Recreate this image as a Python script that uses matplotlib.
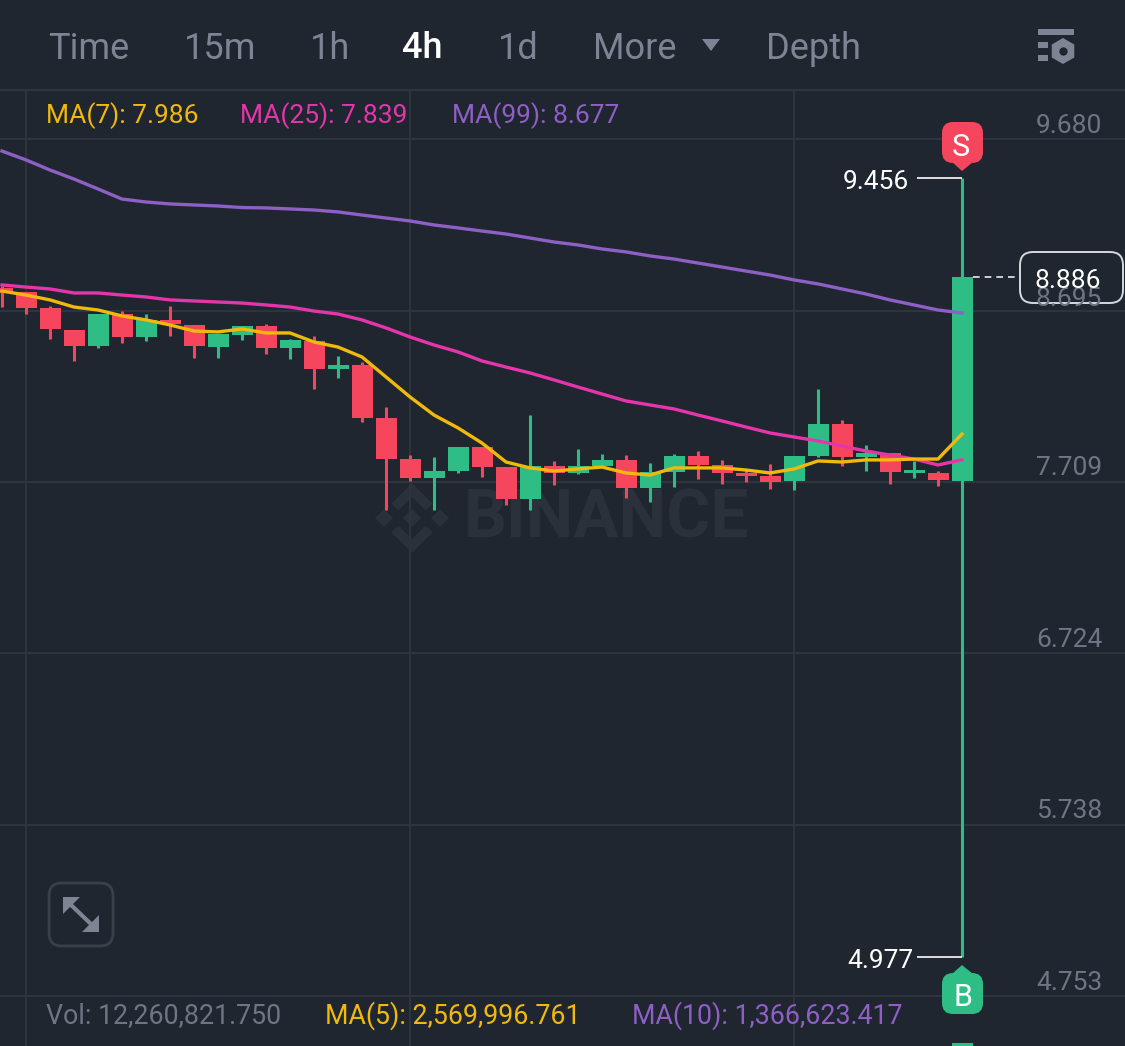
import matplotlib

matplotlib.use("Agg")
import matplotlib.pyplot as plt
from matplotlib.patches import FancyBboxPatch, Polygon
import numpy as np

plt.rcParams["font.family"] = ["Roboto", "DejaVu Sans"]

BG = "#1f2630"
GRID = "#2e353f"
GREEN = "#2ebd85"
RED = "#f6465d"
YELLOW = "#f0b90b"
PINK = "#e535ab"
PURPLE = "#8e5fc4"
GRAY = "#6f7683"
TAB = "#7d8493"
WHITE = "#eaecef"
MARK = "#2a313b"

# candles, one per 4h bar
opens = [8.825, 8.802, 8.710, 8.583, 8.491, 8.675, 8.543, 8.641, 8.612, 8.485, 8.554,
         8.606, 8.480, 8.520, 8.359, 8.382, 8.077, 7.841, 7.732, 7.772, 7.910, 7.795,
         7.611, 7.801, 7.761, 7.801, 7.836, 7.675, 7.767, 7.859, 7.807, 7.761, 7.744,
         7.715, 7.859, 8.043, 7.853, 7.876, 7.761, 7.761, 7.717]
highs = [8.836, 8.802, 8.721, 8.583, 8.675, 8.692, 8.675, 8.721, 8.612, 8.560, 8.606,
         8.618, 8.531, 8.549, 8.434, 8.399, 8.140, 7.864, 7.853, 7.910, 7.910, 7.795,
         8.094, 7.830, 7.899, 7.870, 7.864, 7.818, 7.870, 7.887, 7.836, 7.778, 7.813,
         7.859, 8.244, 8.066, 7.922, 7.876, 7.830, 7.772, 9.456]
lows = [8.715, 8.675, 8.531, 8.405, 8.480, 8.508, 8.520, 8.549, 8.422, 8.422, 8.526,
        8.445, 8.416, 8.244, 8.307, 8.054, 7.548, 7.715, 7.548, 7.761, 7.738, 7.577,
        7.548, 7.692, 7.755, 7.801, 7.617, 7.594, 7.680, 7.726, 7.698, 7.709, 7.669,
        7.663, 7.853, 7.801, 7.772, 7.698, 7.732, 7.686, 4.977]
closes = [8.796, 8.710, 8.589, 8.491, 8.675, 8.543, 8.641, 8.618, 8.491, 8.560, 8.606,
          8.480, 8.526, 8.359, 8.382, 8.077, 7.841, 7.732, 7.772, 7.910, 7.795, 7.611,
          7.801, 7.761, 7.801, 7.836, 7.675, 7.767, 7.859, 7.807, 7.761, 7.744, 7.709,
          7.859, 8.043, 7.853, 7.876, 7.767, 7.778, 7.721, 8.886]

ma7 = [8.807, 8.784, 8.756, 8.715, 8.698, 8.664, 8.641, 8.612, 8.577, 8.572, 8.589,
       8.566, 8.566, 8.514, 8.485, 8.428, 8.313, 8.198, 8.094, 8.020, 7.933, 7.824,
       7.790, 7.772, 7.784, 7.795, 7.761, 7.749, 7.790, 7.790, 7.790, 7.778, 7.761,
       7.784, 7.830, 7.824, 7.836, 7.836, 7.841, 7.841, 7.985]
ma25 = [8.842, 8.830, 8.819, 8.796, 8.796, 8.784, 8.773, 8.756, 8.750, 8.744, 8.738,
        8.727, 8.715, 8.692, 8.675, 8.641, 8.595, 8.543, 8.497, 8.457, 8.405, 8.370,
        8.336, 8.296, 8.255, 8.215, 8.175, 8.152, 8.129, 8.094, 8.060, 8.025, 7.991,
        7.968, 7.945, 7.916, 7.887, 7.864, 7.841, 7.807, 7.836]
ma99 = [9.612, 9.561, 9.503, 9.451, 9.394, 9.336, 9.319, 9.308, 9.302, 9.296, 9.287,
        9.285, 9.279, 9.273, 9.262, 9.244, 9.227, 9.210, 9.187, 9.170, 9.152, 9.135,
        9.112, 9.089, 9.072, 9.049, 9.032, 9.009, 8.991, 8.968, 8.945, 8.922, 8.899,
        8.871, 8.848, 8.819, 8.790, 8.756, 8.727, 8.698, 8.681]

price_ticks = [9.680, 8.695, 7.709, 6.724, 5.738, 4.753]
grid_bars = [1, 17, 33]
tabs = ["Time", "15m", "1h", "4h", "1d", "More", "Depth"]

W, H = 1125, 1046
fig = plt.figure(figsize=(W / 100, H / 100), dpi=100, facecolor=BG)

# watermark sits under everything, in pixel space
back = fig.add_axes([0, 0, 1, 1], zorder=0)
back.set_xlim(0, W); back.set_ylim(H, 0); back.axis("off")
back.text(606, 519, "BINANCE", color=MARK, fontsize=48.5, fontweight="bold",
          ha="center", va="center")
for cx, cy, r in [(412, 518, 9), (384, 518, 9), (440, 518, 9)]:
    back.add_patch(Polygon([(cx - r, cy), (cx, cy - r), (cx + r, cy), (cx, cy + r)],
                           closed=True, fc=MARK, ec="none"))
back.plot([395, 412, 429], [507, 490, 507], color=MARK, lw=7, solid_joinstyle="miter",
          solid_capstyle="butt")
back.plot([395, 412, 429], [529, 546, 529], color=MARK, lw=7, solid_joinstyle="miter",
          solid_capstyle="butt")

# price chart: one bar = 24 px, y scale from the axis labels
ax = fig.add_axes([0, 0, 1, (H - 90) / H], zorder=1)
ax.patch.set_alpha(0)
ax.set_xlim(-2 / 24, (W - 2) / 24)
ax.set_ylim(4.466, 9.963)
for s in ax.spines.values():
    s.set_visible(False)
ax.set_yticks(price_ticks)
ax.set_xticks(grid_bars)
ax.tick_params(length=0, labelleft=False, labelbottom=False)
ax.grid(color=GRID, lw=1.4)
ax.set_axisbelow(True)

x = np.arange(len(opens))
o, h, l, c = map(np.array, (opens, highs, lows, closes))
colors = [GREEN if cc >= oo else RED for oo, cc in zip(o, c)]
ax.vlines(x, l, h, colors=colors, lw=2.2, zorder=2)
ax.bar(x, np.abs(c - o), bottom=np.minimum(o, c), width=0.875, color=colors, zorder=3)
ax.plot(x, ma99, color=PURPLE, lw=2.4, zorder=4)
ax.plot(x, ma25, color=PINK, lw=2.4, zorder=5)
ax.plot(x, ma7, color=YELLOW, lw=2.4, zorder=6)

# leader lines for the high / low of the last bar
ax.hlines([highs[-1], lows[-1]], x[-1] - 1.875, x[-1], colors=WHITE, lw=1.3, zorder=4)
ax.plot([x[-1] + 0.45, x[-1] + 2.3], [closes[-1]] * 2, color=WHITE, lw=1.2, ls=(0, (4, 3)), zorder=4)

# everything app-like on top, in pixel space
ui = fig.add_axes([0, 0, 1, 1], zorder=2)
ui.patch.set_alpha(0)
ui.set_xlim(0, W); ui.set_ylim(H, 0); ui.axis("off")

ui.hlines(90, 0, W, colors=GRID, lw=1.4)

tab_x = [48, 184, 310, 402, 498, 593, 766]
for name, tx in zip(tabs, tab_x):
    active = name == "4h"
    ui.text(tx, 49, name, color="#ffffff" if active else TAB, fontsize=26,
            fontweight="medium" if active else "normal", ha="left", va="center")
ui.add_patch(Polygon([(702, 39), (720, 39), (711, 51)], closed=True, fc=TAB, ec="none"))

# settings icon
ui.add_patch(plt.Rectangle((1038, 29), 36, 6, fc=TAB, ec="none"))
ui.add_patch(plt.Rectangle((1038, 42), 10, 6, fc=TAB, ec="none"))
ui.add_patch(plt.Rectangle((1038, 55), 10, 6, fc=TAB, ec="none"))
ang = np.deg2rad(np.arange(30, 390, 60))
ui.add_patch(Polygon(np.c_[1063 + 13 * np.cos(ang), 51 + 13 * np.sin(ang)],
                     closed=True, fc=TAB, ec="none"))
ui.plot([1063], [51], "o", ms=6, color=BG, mew=0)

ui.text(46, 116, "MA(7): 7.986", color=YELLOW, fontsize=19, va="center")
ui.text(240, 116, "MA(25): 7.839", color=PINK, fontsize=19, va="center")
ui.text(452, 116, "MA(99): 8.677", color=PURPLE, fontsize=19, va="center")

ui.text(46, 1016, "Vol: 12,260,821.750", color=GRAY, fontsize=19.3, va="center")
ui.text(325, 1016, "MA(5): 2,569,996.761", color=YELLOW, fontsize=19.3, va="center")
ui.text(632, 1016, "MA(10): 1,366,623.417", color=PURPLE, fontsize=19.3, va="center")

for p, py in zip(price_ticks, [126, 299, 468, 640, 811, 983]):
    ui.text(1069, py, f"{p:.3f}", color=GRAY, fontsize=19, ha="center", va="center")

# last price box, mostly hides the 8.695 label behind it
ui.add_patch(FancyBboxPatch((1020, 252), 103, 51, boxstyle="round,pad=0,rounding_size=13",
                            fc=(0.12, 0.15, 0.19, 0.88), ec="#d5d8dd", lw=1.4))
ui.text(1068, 281, "8.886", color="#ffffff", fontsize=19, ha="center", va="center")

ui.text(909, 182, "9.456", color="#ffffff", fontsize=19, ha="right", va="center")
ui.text(913, 961, "4.977", color="#ffffff", fontsize=19, ha="right", va="center")

# S / B markers
ui.add_patch(FancyBboxPatch((942, 122), 41, 41, boxstyle="round,pad=0,rounding_size=11",
                            fc=RED, ec="none"))
ui.add_patch(Polygon([(952, 162), (973, 162), (962, 171)], closed=True, fc=RED, ec="none"))
ui.text(961, 147, "S", color="#ffffff", fontsize=22, ha="center", va="center")
ui.add_patch(FancyBboxPatch((942, 973), 41, 41, boxstyle="round,pad=0,rounding_size=11",
                            fc=GREEN, ec="none"))
ui.add_patch(Polygon([(952, 974), (973, 974), (962, 965)], closed=True, fc=GREEN, ec="none"))
ui.text(963, 997, "B", color="#ffffff", fontsize=22, ha="center", va="center")

# top of the last volume bar, cut off by the picture edge
ui.add_patch(plt.Rectangle((952, 1043), 21, 3, fc=GREEN, ec="none"))

# expand button
ui.add_patch(FancyBboxPatch((49, 883), 64, 63, boxstyle="round,pad=0,rounding_size=13",
                            fc="none", ec="#39404b", lw=2))
ui.add_patch(Polygon([(63, 897), (80, 897), (63, 914)], closed=True, fc=TAB, ec="none"))
ui.add_patch(Polygon([(99, 932), (82, 932), (99, 915)], closed=True, fc=TAB, ec="none"))
ui.plot([70, 92], [904, 925], color=TAB, lw=3)

fig.savefig("out.png", dpi=100, facecolor=BG)
